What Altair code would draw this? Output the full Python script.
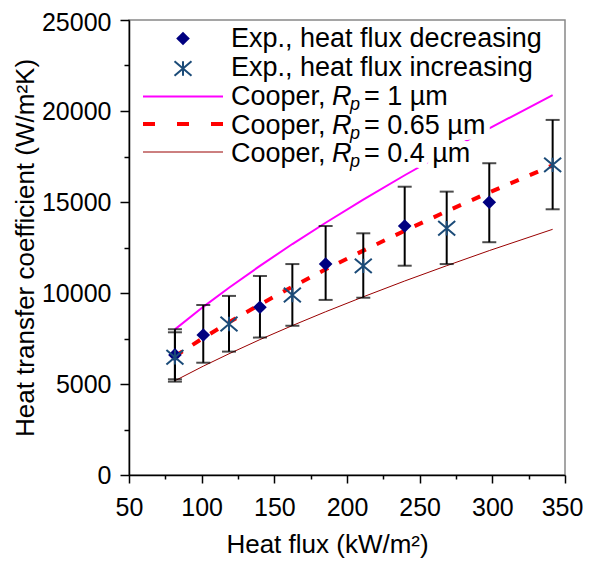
import altair as alt
import pandas as pd

FONT = "Liberation Sans"

# ---- data ----
dec_q = [81.6, 101.1, 140.1, 185.3, 239.7, 297.9]
dec_h = [6600, 7690, 9220, 11590, 13680, 14990]
dec_lo = [5260, 6170, 7550, 9620, 11500, 12790]
dec_hi = [8010, 9340, 10940, 13680, 15840, 17130]

inc_q = [81.6, 118.8, 162.4, 211.2, 268.6, 341.5]
inc_h = [6470, 8300, 9890, 11490, 13560, 17040]
inc_lo = [5130, 6780, 8200, 9740, 11590, 14600]
inc_hi = [7840, 9840, 11590, 13280, 15570, 19510]

cooper_q = [81.6, 101.1, 118.8, 140.1, 162.4, 185.3, 211.2, 239.7, 268.6, 297.9, 341.5]
cooper_1 = [8000, 9240, 10290, 11490, 12690, 13860, 15130, 16470, 17770, 19050, 20870]
cooper_065 = [6520, 7530, 8390, 9370, 10340, 11300, 12330, 13420, 14490, 15530, 17010]
cooper_04 = [5180, 5980, 6660, 7440, 8210, 8970, 9790, 10660, 11500, 12330, 13500]

exp_labels = ["Exp., heat flux decreasing", "Exp., heat flux increasing"]
cooper_rp = ["1", "0.65", "0.4"]

x_ticks = list(range(50, 351, 25))
y_ticks = list(range(0, 25001, 2500))

# ---- tables ----
dec_df = pd.DataFrame({"q": dec_q, "h": dec_h, "lo": dec_lo, "hi": dec_hi})
inc_df = pd.DataFrame({"q": inc_q, "h": inc_h, "lo": inc_lo, "hi": inc_hi})
exp_df = pd.concat([dec_df, inc_df], ignore_index=True)
caps_df = pd.concat([
    pd.DataFrame({"q": exp_df["q"], "h": exp_df["lo"]}),
    pd.DataFrame({"q": exp_df["q"], "h": exp_df["hi"]}),
], ignore_index=True)
c1_df = pd.DataFrame({"q": cooper_q, "h": cooper_1})
c065_df = pd.DataFrame({"q": cooper_q, "h": cooper_065})
c04_df = pd.DataFrame({"q": cooper_q, "h": cooper_04})

x_axis = alt.Axis(
    values=x_ticks, title="Heat flux (kW/m²)",
    labelExpr="datum.value % 50 == 0 ? datum.label : ''", labelOverlap=False, labelFlush=False,
    tickSize={"condition": {"test": "datum.value % 50 != 0", "value": 4}, "value": 8},
    labelOffset={"condition": {"test": "datum.value == 350", "value": -3}, "value": 0},
    labelPadding=12, titleX=198, titleY=77, titleBaseline="alphabetic", titleAlign="center",
    grid=False, format="d",
)
y_axis = alt.Axis(
    values=y_ticks, title="Heat transfer coefficient (W/m²K)",
    labelExpr="datum.value % 5000 == 0 ? datum.label : ''", labelOverlap=False, labelFlush=False,
    tickSize={"condition": {"test": "datum.value % 5000 != 0", "value": 5}, "value": 9},
    labelOffset={"condition": {"test": "datum.value == 25000", "value": 2}, "value": 0},
    labelPadding=9, titleX=-96, titleY=227.5, titleAngle=270, titleBaseline="alphabetic",
    titleAlign="center", grid=False, format="d",
)
xs = alt.Scale(domain=[50, 350], nice=False, zero=False)
ys = alt.Scale(domain=[0, 25000], nice=False)


def X(f="q"):
    return alt.X(f"{f}:Q", scale=xs, axis=x_axis)


def Y(f="h"):
    return alt.Y(f"{f}:Q", scale=ys, axis=y_axis)


line1 = alt.Chart(c1_df).mark_line(color="#FF00FF", strokeWidth=2).encode(x=X(), y=Y())
line065 = alt.Chart(c065_df).mark_line(color="#FF0000", strokeWidth=4, strokeDash=[9, 12], strokeCap="butt").encode(x=X(), y=Y())
line04 = alt.Chart(c04_df).mark_line(color="#990000", strokeWidth=1).encode(x=X(), y=Y())

bars = alt.Chart(exp_df).mark_rule(color="black", strokeWidth=2).encode(x=X(), y=Y("lo"), y2="hi:Q")
caps = alt.Chart(caps_df).mark_tick(orient="horizontal", size=14, thickness=2, color="black").encode(x=X(), y=Y())

ASTER = "M-1,-0.85L1,0.85M-1,0.85L1,-0.85M0,-0.85L0,0.85"
dec_pts = alt.Chart(dec_df).mark_point(shape="diamond", filled=True, size=185, color="#000080", opacity=1).encode(x=X(), y=Y())
inc_pts = alt.Chart(inc_df).mark_point(shape=ASTER, filled=False, size=289, color="#1B4B78", strokeWidth=2, opacity=1).encode(x=X(), y=Y())


# ---- manual legend (pixel positions inside the plot area) ----
def add_text(s, x, y, size=27, style="normal"):
    d = pd.DataFrame({"label": [s]})
    base = dict(align="left", baseline="alphabetic", font=FONT, fontSize=size, fontStyle=style)
    halo = alt.Chart(d).mark_text(fill="white", stroke="white", strokeWidth=12, strokeJoin="round", **base).encode(
        x=alt.value(x), y=alt.value(y), text="label:N")
    txt = alt.Chart(d).mark_text(color="black", **base).encode(x=alt.value(x), y=alt.value(y), text="label:N")
    return halo, txt


halos, texts = [], []
row_base = [27, 56, 85, 113.5, 142]
for i, lab in enumerate(exp_labels):
    h_, t_ = add_text(lab, 102, row_base[i])
    halos.append(h_); texts.append(t_)
for j, rp in enumerate(cooper_rp):
    yb = row_base[2 + j]
    for s, x, size, style, dy in [("Cooper, ", 102, 27, "normal", 0), ("R", 203, 27, "italic", 0),
                                  ("p", 221, 18, "italic", 5), (f" = {rp} µm", 235, 27, "normal", 0)]:
        h_, t_ = add_text(s, x, yb + dy, size, style)
        halos.append(h_); texts.append(t_)

one = pd.DataFrame({"k": [0]})
leg_dec = alt.Chart(one).mark_point(shape="diamond", filled=True, size=185, color="#000080", opacity=1).encode(
    x=alt.value(54), y=alt.value(18.5))
leg_inc = alt.Chart(one).mark_point(shape=ASTER, filled=False, size=289, color="#1B4B78", strokeWidth=2, opacity=1).encode(
    x=alt.value(54), y=alt.value(48.5))
leg_l1 = alt.Chart(one).mark_rule(color="#FF00FF", strokeWidth=2).encode(x=alt.value(14), x2=alt.value(94), y=alt.value(76.5))
leg_l065 = alt.Chart(one).mark_rule(color="#FF0000", strokeWidth=4, strokeDash=[12, 22], strokeCap="butt").encode(
    x=alt.value(14), x2=alt.value(94), y=alt.value(104))
leg_l04 = alt.Chart(one).mark_rule(color="#990000", strokeWidth=1).encode(x=alt.value(14), x2=alt.value(94), y=alt.value(132))

chart = alt.layer(
    line04, line065, line1, bars, caps, dec_pts, inc_pts,
    *halos, *texts, leg_dec, leg_inc, leg_l1, leg_l065, leg_l04,
).properties(
    width=436, height=455,
    autosize=alt.AutoSizeParams(type="none"),
    padding={"left": 121, "top": 12, "right": 18, "bottom": 83},
).configure_view(
    stroke="#888888", strokeWidth=1.5,
).configure_axis(
    domainColor="black", domainWidth=1.5, tickColor="black", tickWidth=1.5,
    labelFont=FONT, labelFontSize=25, labelColor="black",
    titleFont=FONT, titleFontSize=26, titleFontWeight="normal", titleColor="black",
)

chart.save("out.html", embed_options={"renderer": "svg", "actions": False})
